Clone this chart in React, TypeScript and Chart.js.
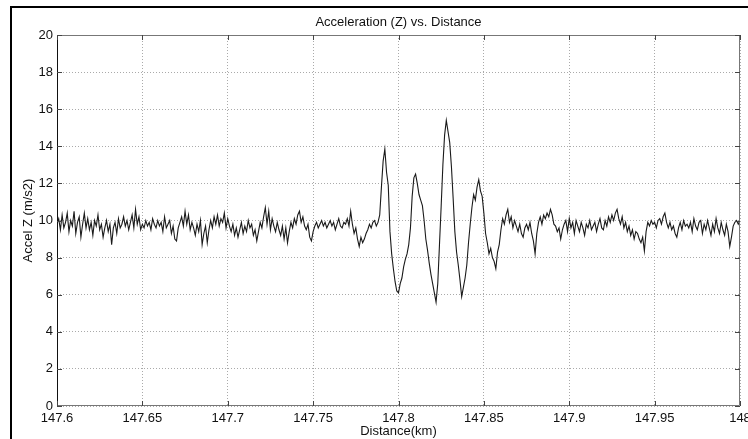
import React, { useEffect, useRef } from "react";
import { Chart, registerables } from "chart.js";

Chart.register(...registerables);

const TITLE = "Acceleration (Z) vs. Distance";
const X_LABEL = "Distance(km)";
const Y_LABEL = "Accel Z (m/s2)";
const X_TICKS = [147.6, 147.65, 147.7, 147.75, 147.8, 147.85, 147.9, 147.95, 148];
const X_TICK_LABELS = ["147.6", "147.65", "147.7", "147.75", "147.8", "147.85", "147.9", "147.95", "148"];
const Y_TICKS = [0, 2, 4, 6, 8, 10, 12, 14, 16, 18, 20];
const X_MIN = 147.6;
const X_MAX = 148;
const Y_MIN = 0;
const Y_MAX = 20;

// sampling grid of the distance axis (km)
const DIST_START = 147.6;
const DIST_STEP = 0.001;

// Acceleration Z (m/s2), one value per sample
const ACCEL_Z = [
  9.8, 10.1, 9.5, 10.3, 9.6, 9.9, 10.4, 9.4, 10.0, 9.7,
  10.5, 9.3, 9.9, 10.2, 9.1, 9.8, 10.4, 9.6, 10.1, 9.5,
  9.9, 9.2, 10.0, 9.7, 10.3, 9.5, 9.8, 9.1, 9.6, 10.0,
  9.4, 9.8, 8.7, 9.6, 9.9, 9.3, 10.1, 9.6, 9.8, 10.2,
  9.7, 10.0, 9.5, 9.9, 10.3, 9.6, 10.6, 9.8, 10.2, 9.5,
  9.8, 9.6, 10.0, 9.7, 9.9, 9.5, 10.1, 9.8, 9.6, 10.0,
  9.7, 9.9, 9.4, 10.2, 9.6, 9.8, 10.0, 9.3, 9.7, 9.0,
  8.9, 9.6, 9.9, 10.2, 9.7, 10.5, 9.8, 10.3, 9.5, 9.9,
  9.6, 9.2, 9.8, 9.4, 10.0, 8.7, 9.3, 9.7, 8.8, 9.5,
  10.0, 9.6, 10.2, 9.8, 10.3, 9.7, 10.1, 9.9, 10.4, 9.6,
  10.1, 9.7, 9.4, 9.8, 9.2, 9.6, 9.1, 9.5, 9.9, 9.3,
  9.7, 9.4, 10.0, 9.6, 9.8, 9.2, 9.5, 8.9, 9.4, 9.9,
  9.6, 10.2, 10.7, 9.8, 10.5, 9.5, 10.1, 9.7, 9.4, 9.9,
  9.5, 9.2, 9.7, 9.0, 9.6, 8.8, 9.4, 9.9, 9.6, 10.1,
  9.8, 10.3, 10.5, 9.9, 10.2, 9.7, 9.5, 9.8, 9.1, 8.9,
  9.4, 9.7, 9.9, 9.6, 9.8, 10.0, 9.7, 9.9, 9.6, 9.8,
  10.0, 9.7, 9.9, 9.5, 9.8, 10.1, 9.7, 9.6, 9.9, 9.8,
  10.1, 9.7, 10.5, 9.8, 9.3, 9.6, 9.0, 8.6, 9.1, 8.8,
  9.0, 9.3, 9.5, 9.8, 9.6, 9.9, 10.0, 9.7, 9.9, 10.3,
  11.8, 13.2, 13.85, 12.6, 11.9, 9.4, 8.2, 7.4, 6.7, 6.2,
  6.1, 6.6, 6.9, 7.5, 7.9, 8.2, 8.7, 9.6, 11.3, 12.3,
  12.5, 12.0, 11.4, 11.1, 10.8, 10.0, 9.0, 8.4, 7.7, 7.1,
  6.6, 6.1, 5.6, 6.6, 8.7, 10.8, 13.0, 14.6, 15.4, 14.8,
  14.2, 12.9, 11.2, 9.4, 8.3, 7.6, 6.8, 5.9, 6.4, 6.9,
  7.6, 8.8, 9.8, 10.7, 11.4, 11.1, 11.8, 12.2, 11.6, 11.3,
  10.4, 9.3, 8.8, 8.2, 8.5, 8.0, 7.8, 7.4, 8.3, 8.7,
  9.5, 10.1, 9.8, 10.3, 10.6, 9.9, 10.2, 9.6, 10.0, 9.7,
  9.4, 9.8, 9.3, 9.1, 9.6, 9.8, 9.5, 9.9, 9.3, 8.9,
  8.2, 9.3, 9.9, 10.2, 9.8, 10.3, 10.1, 10.4, 10.2, 10.6,
  10.3, 9.8, 9.7, 9.4, 9.6, 9.0, 9.5, 9.8, 10.0, 9.4,
  10.1, 9.6, 9.9, 9.3, 10.0, 9.7, 9.4, 9.9, 9.6, 9.2,
  9.8, 9.6, 10.0, 9.5, 9.7, 9.9, 9.4, 9.8, 10.1, 9.6,
  9.5, 10.0, 9.7, 10.2, 9.9, 10.3, 10.0, 10.4, 10.6, 10.1,
  9.8, 10.2, 9.6, 9.9, 9.4, 9.7, 9.2, 9.5, 9.0, 9.4,
  9.3, 9.0, 8.8, 9.1, 8.35, 9.4, 9.9, 9.7, 10.0, 9.8,
  9.9, 9.6, 10.0, 10.1, 9.8, 10.2, 10.4, 9.9, 9.6, 9.9,
  9.5, 9.7, 9.3, 9.1, 9.6, 9.9, 9.5, 10.0, 9.7, 9.8,
  9.6, 9.9, 9.4, 10.1, 9.7, 9.5, 9.9, 10.0, 9.3, 9.8,
  9.5, 10.0, 9.6, 9.2, 9.8, 9.4, 10.1, 9.6, 9.3, 9.9,
  9.5, 9.2, 9.8, 9.4, 8.6, 9.1, 9.7, 9.9, 10.0, 9.8,
  10.0,
];

const FONT_FAMILY = '"Liberation Sans", Arial, Helvetica, sans-serif';
const TEXT_COLOR = "#111";

const decorPlugin = {
  id: "decor",
  afterDraw(chart: any) {
    const { ctx, chartArea: a, scales } = chart;
    ctx.save();
    // outer figure frame (top & left)
    ctx.fillStyle = "#000";
    ctx.fillRect(10, 6, chart.width - 10, 2);
    ctx.fillRect(10, 6, 2, chart.height - 6);

    // axes box
    ctx.lineWidth = 1;
    ctx.strokeStyle = "#777";
    ctx.beginPath();
    ctx.moveTo(a.left, a.top + 0.5);
    ctx.lineTo(a.right - 0.5, a.top + 0.5);
    ctx.lineTo(a.right - 0.5, a.bottom - 0.5);
    ctx.lineTo(a.left, a.bottom - 0.5);
    ctx.stroke();
    ctx.strokeStyle = "#111";
    ctx.beginPath();
    ctx.moveTo(a.left + 0.5, a.top);
    ctx.lineTo(a.left + 0.5, a.bottom);
    ctx.stroke();

    // inward tick marks
    ctx.strokeStyle = "#444";
    ctx.beginPath();
    for (const v of Y_TICKS) {
      const y = Math.round(scales.y.getPixelForValue(v)) + 0.5;
      ctx.moveTo(a.left, y);
      ctx.lineTo(a.left + 5, y);
      ctx.moveTo(a.right - 5, y);
      ctx.lineTo(a.right, y);
    }
    for (const v of X_TICKS) {
      const x = Math.round(scales.x.getPixelForValue(v)) + 0.5;
      ctx.moveTo(x, a.bottom);
      ctx.lineTo(x, a.bottom - 5);
      ctx.moveTo(x, a.top);
      ctx.lineTo(x, a.top + 5);
    }
    ctx.stroke();

    // title
    ctx.fillStyle = TEXT_COLOR;
    ctx.font = `13px ${FONT_FAMILY}`;
    ctx.textAlign = "center";
    ctx.textBaseline = "alphabetic";
    ctx.fillText(TITLE, (a.left + a.right) / 2, 26);
    ctx.restore();
  },
};

export default function App() {
  const canvasRef = useRef<HTMLCanvasElement | null>(null);

  useEffect(() => {
    const canvas = canvasRef.current;
    if (!canvas) return;
    const points = ACCEL_Z.map((y, i) => ({ x: DIST_START + i * DIST_STEP, y }));
    const chart = new Chart(canvas, {
      type: "line",
      data: {
        datasets: [
          {
            data: points,
            borderColor: "#1a1a1a",
            borderWidth: 1.1,
            pointRadius: 0,
            tension: 0,
            fill: false,
          },
        ],
      },
      options: {
        responsive: false,
        animation: false,
        events: [],
        layout: { padding: { top: 35, right: 8, bottom: 0, left: 0 } },
        plugins: {
          legend: { display: false },
          tooltip: { enabled: false },
          title: { display: false },
        },
        scales: {
          x: {
            type: "linear",
            position: "bottom",
            min: X_MIN,
            max: X_MAX,
            afterBuildTicks: (s: any) => {
              s.ticks = X_TICKS.map((v) => ({ value: v }));
            },
            afterFit: (s: any) => {
              s.height = 33;
              s.paddingLeft = 0;
              s.paddingRight = 0;
            },
            ticks: {
              autoSkip: false,
              maxRotation: 0,
              minRotation: 0,
              padding: 5,
              color: TEXT_COLOR,
              font: { family: FONT_FAMILY, size: 13 },
              callback: (v: any) => {
                const idx = X_TICKS.findIndex((t) => Math.abs(t - Number(v)) < 1e-6);
                return idx >= 0 ? X_TICK_LABELS[idx] : "";
              },
            },
            grid: { color: "#aaa", lineWidth: 1, drawTicks: false },
            border: { display: false, dash: [1, 2] },
            title: {
              display: true,
              text: X_LABEL,
              color: TEXT_COLOR,
              font: { family: FONT_FAMILY, size: 13 },
              padding: { top: 0, bottom: 0 },
            },
          },
          y: {
            type: "linear",
            min: Y_MIN,
            max: Y_MAX,
            afterBuildTicks: (s: any) => {
              s.ticks = Y_TICKS.map((v) => ({ value: v }));
            },
            afterFit: (s: any) => {
              s.width = 57;
              s.paddingTop = 0;
              s.paddingBottom = 0;
            },
            ticks: {
              autoSkip: false,
              padding: 4,
              color: TEXT_COLOR,
              font: { family: FONT_FAMILY, size: 13 },
            },
            grid: { color: "#aaa", lineWidth: 1, drawTicks: false },
            border: { display: false, dash: [1, 2] },
            title: {
              display: true,
              text: Y_LABEL,
              color: TEXT_COLOR,
              font: { family: FONT_FAMILY, size: 13 },
              padding: { top: 21, bottom: 0 },
            },
          },
        },
      },
      plugins: [decorPlugin],
    });
    return () => chart.destroy();
  }, []);

  return (
    <div style={{ position: "absolute", left: 0, top: 0, width: 748, height: 439, background: "#fff" }}>
      <canvas ref={canvasRef} width={748} height={439} style={{ display: "block", width: 748, height: 439 }} />
    </div>
  );
}
